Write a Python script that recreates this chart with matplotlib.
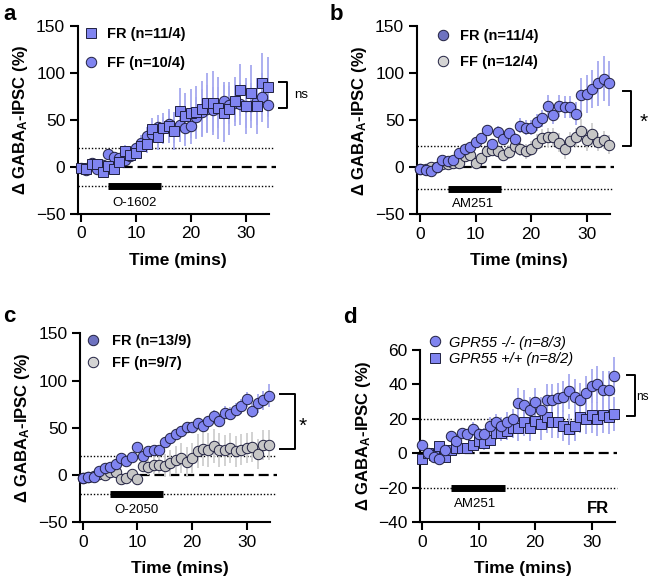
import matplotlib
matplotlib.use('Agg')
import matplotlib.pyplot as plt
from matplotlib.lines import Line2D
import numpy as np

plt.rcParams['font.family'] = ['Liberation Sans', 'DejaVu Sans']
plt.rcParams['mathtext.fontset'] = 'custom'
plt.rcParams['mathtext.rm'] = 'Liberation Sans'
plt.rcParams['mathtext.bf'] = 'Liberation Sans:bold'
plt.rcParams['mathtext.it'] = 'Liberation Sans:italic'

TIME = list(range(35))

# panel a: O-1602
A_FR = [-1, -2, 3, 3, -5, 1, -2, 5, 17, 13, 15, 22, 25, 40, 32, 41, 44, 38, 60, 54,
        57, 58, 62, 68, 68, 63, 57, 62, 70, 82, 65, 79, 65, 89, 85]
A_FR_ERR = [3, 3, 3, 4, 4, 5, 5, 5, 6, 6, 7, 8, 10, 12, 14, 16, 18, 20, 24, 25,
            26, 28, 30, 32, 34, 33, 30, 28, 26, 28, 30, 30, 30, 32, 32]
A_FF = [-1, -3, 4, -2, 2, 14, 11, 10, 7, 12, 20, 26, 33, 35, 43, 41, 46, 42, 45, 42,
        44, 53, 58, 62, 61, 63, 70, 66, 68, 67, 65, 65, 70, 74, 66]
A_FF_ERR = [2, 2, 3, 3, 3, 4, 4, 5, 5, 6, 6, 8, 10, 10, 12, 12, 14, 16, 18, 20,
            20, 22, 25, 25, 24, 22, 20, 20, 20, 22, 24, 24, 25, 26, 25]

# panel b: AM251
B_FR = [-2, -3, -4, 0, 8, 7, 8, 15, 19, 22, 27, 31, 40, 25, 38, 30, 36, 30, 44, 42,
        42, 48, 52, 65, 56, 65, 64, 64, 57, 77, 78, 83, 89, 94, 89]
B_FR_ERR = [2, 2, 2, 2, 3, 3, 3, 3, 4, 4, 4, 5, 5, 5, 6, 6, 6, 7, 8, 8,
            8, 9, 9, 12, 10, 12, 12, 12, 12, 18, 20, 20, 24, 24, 24]
B_FF = [-2, -2, 0, 0, 4, 4, 5, 5, 12, 13, 5, 10, 17, 18, 17, 13, 16, 23, 20, 17,
        20, 26, 31, 32, 32, 26, 19, 28, 32, 39, 29, 35, 27, 29, 24]
B_FF_ERR = [2, 2, 2, 2, 3, 3, 3, 3, 4, 4, 4, 5, 5, 6, 6, 6, 7, 8, 8, 8,
            8, 9, 10, 10, 10, 10, 10, 10, 10, 12, 12, 12, 10, 10, 10]

# panel c: O-2050
C_FR = [-3, -2, -2, 4, 7, 9, 12, 18, 15, 19, 30, 20, 25, 27, 27, 35, 39, 43, 47, 51,
        51, 55, 52, 57, 63, 57, 66, 65, 69, 73, 80, 68, 76, 79, 84]
C_FR_ERR = [2, 2, 2, 2, 2, 3, 3, 3, 3, 3, 3, 3, 4, 4, 4, 4, 4, 5, 5, 5,
            5, 5, 6, 6, 6, 6, 7, 7, 7, 8, 8, 8, 10, 10, 12]
C_FF = [-3, -2, -1, 1, 0, 3, 3, -4, -3, 1, -4, 10, 8, 11, 11, 10, 13, 16, 18, 14,
        18, 25, 28, 26, 31, 26, 26, 29, 25, 27, 29, 30, 22, 32, 32]
C_FF_ERR = [2, 2, 2, 2, 3, 3, 3, 4, 4, 4, 4, 6, 8, 10, 10, 12, 14, 15, 16, 16,
            16, 18, 18, 18, 18, 18, 16, 16, 16, 16, 16, 16, 16, 16, 16]

# panel d: AM251 in GPR55 mice (FR)
D_KO = [5, 0, -2, -3, 2, 10, 7, 12, 11, 14, 11, 11, 16, 18, 16, 18, 20, 29, 28, 25,
        30, 25, 31, 31, 32, 33, 36, 33, 31, 35, 39, 40, 37, 37, 45]
D_KO_ERR = [3, 2, 2, 2, 2, 3, 3, 3, 3, 4, 4, 4, 5, 5, 5, 6, 6, 9, 9, 8,
            8, 8, 9, 9, 9, 9, 10, 10, 10, 10, 10, 11, 11, 11, 11]
D_WT = [-3, 0, -1, 4, -2, 2, 3, 3, 3, 5, 7, 6, 8, 12, 12, 13, 15, 15, 18, 15,
        19, 17, 21, 18, 18, 16, 14, 16, 21, 20, 22, 20, 22, 21, 23]
D_WT_ERR = [2, 2, 2, 2, 2, 2, 2, 3, 3, 3, 3, 4, 4, 4, 5, 5, 6, 8, 8, 8,
            8, 9, 9, 9, 9, 9, 9, 9, 9, 9, 10, 10, 10, 10, 10]

BLUE = '#8084f0'
BLUE_DARK = '#6e72c0'
BLUE_ERR = '#a6a9ef'
GREY = '#c6c6c6'
GREY_ERR = '#cfcfcf'
EDGE = '#202040'

W, H = 649, 586
fig = plt.figure(figsize=(W / 100, H / 100), dpi=100)


def make_axes(left, top, right, bottom, xlim, ylim):
    ax = fig.add_axes([left / W, 1 - bottom / H, (right - left) / W, (bottom - top) / H])
    ax.set_xlim(*xlim)
    ax.set_ylim(*ylim)
    for s in ['top', 'right']:
        ax.spines[s].set_visible(False)
    for s in ['left', 'bottom']:
        ax.spines[s].set_linewidth(1.5)
    ax.spines['bottom'].set_bounds(xlim[0], 34.2)
    ax.tick_params(width=1.5, length=6, labelsize=12.5, pad=3)
    ax.set_xticks([0, 10, 20, 30])
    ax.set_xlabel('Time (mins)', fontsize=12.5, fontweight='bold', labelpad=8)
    ax.set_ylabel(r'Δ GABA$_\mathbf{A}$-IPSC (%)', fontsize=12, fontweight='bold', labelpad=4)
    return ax


def series(ax, y, err, marker, color, ecolor, z):
    ax.errorbar(TIME, y, yerr=err, fmt='none', ecolor=ecolor, elinewidth=1.3, capsize=0, zorder=1)
    ax.plot(TIME, y, marker, ms=7.5 if marker == 'o' else 7, mfc=color, mec=EDGE, mew=0.7,
            ls='none', zorder=z, clip_on=False)


def guides(ax, band, end_dash, end_dot, drug, drug_xy):
    x0 = ax.get_xlim()[0]
    ax.plot([x0, end_dash], [0, 0], color='k', lw=1.6, dashes=(4.5, 2.2), zorder=0.5, clip_on=False)
    ax.plot([x0, end_dot], [band, band], color='k', lw=1, dashes=(1, 1.4), zorder=0.5, clip_on=False)
    ax.plot([x0, end_dot], [-band, -band], color='k', lw=1, dashes=(1, 1.4), zorder=0.5, clip_on=False)
    ax.plot([5, 14.6], [-band, -band], color='k', lw=5, solid_capstyle='butt', zorder=2)
    ax.text(drug_xy[0], drug_xy[1], drug, fontsize=9.5, ha='center', va='center')


def bracket(ax, x0, x1, y0, y1, label, lx, ly, size, ha='left'):
    ax.plot([x0, x1, x1, x0], [y0, y0, y1, y1], color='k', lw=1.4, clip_on=False)
    ax.text(lx, ly, label, fontsize=size, ha=ha, va='center', clip_on=False)


# ---- a ----
ax = make_axes(77.7, 26, 278.6, 214, (-0.6, 36), (-50, 150))
ax.set_yticks([-50, 0, 50, 100, 150])
guides(ax, 20, 35.5, 35, 'O-1602', (9.8, -38.5))
series(ax, A_FF, A_FF_ERR, 'o', BLUE, BLUE_ERR, 3)
series(ax, A_FR, A_FR_ERR, 's', BLUE, BLUE_ERR, 3)
h = [Line2D([], [], marker='s', ls='none', ms=7, mfc=BLUE, mec=EDGE, mew=0.7),
     Line2D([], [], marker='o', ls='none', ms=7.5, mfc=BLUE, mec=EDGE, mew=0.7)]
ax.legend(h, ['FR (n=11/4)', 'FF (n=10/4)'], loc='upper left', bbox_to_anchor=(-0.03, 1.065),
          frameon=False, handlelength=0.8, handletextpad=0.7, labelspacing=1.05,
          prop={'weight': 'bold', 'size': 10.5})
bracket(ax, 36.1, 37.6, 90, 63, 'ns', 38.9, 77, 9.5)
fig.text(3 / W, 1 - 14 / H, 'a', fontsize=16, fontweight='bold', va='center')

# ---- b ----
ax = make_axes(416.7, 26, 620.2, 214.5, (-0.6, 36), (-50, 150))
ax.set_yticks([-50, 0, 50, 100, 150])
guides(ax, 23, 34.8, 34.5, 'AM251', (9.6, -38.5))
series(ax, B_FF, B_FF_ERR, 'o', GREY, GREY_ERR, 3)
series(ax, B_FR, B_FR_ERR, 'o', BLUE, BLUE_ERR, 4)
h = [Line2D([], [], marker='o', ls='none', ms=7.5, mfc=BLUE_DARK, mec=EDGE, mew=0.7),
     Line2D([], [], marker='o', ls='none', ms=7.5, mfc='#d4d4d4', mec=EDGE, mew=0.7)]
ax.legend(h, ['FR (n=11/4)', 'FF (n=12/4)'], loc='upper left', bbox_to_anchor=(0.035, 1.055),
          frameon=False, handlelength=0.8, handletextpad=0.75, labelspacing=0.85,
          prop={'weight': 'bold', 'size': 10.5})
bracket(ax, 36.5, 38.0, 81.5, 23, '*', 40.2, 48, 15, ha='center')
fig.text(330 / W, 1 - 14 / H, 'b', fontsize=16, fontweight='bold', va='center')

# ---- c ----
ax = make_axes(80, 333.3, 279.5, 522.3, (-0.5, 36), (-50, 150))
ax.set_yticks([-50, 0, 50, 100, 150])
guides(ax, 20, 35.5, 35.3, 'O-2050', (9.9, -37))
series(ax, C_FF, C_FF_ERR, 'o', GREY, GREY_ERR, 3)
series(ax, C_FR, C_FR_ERR, 'o', BLUE, BLUE_ERR, 4)
h = [Line2D([], [], marker='o', ls='none', ms=7.5, mfc=BLUE_DARK, mec=EDGE, mew=0.7),
     Line2D([], [], marker='o', ls='none', ms=7.5, mfc='#d4d4d4', mec=EDGE, mew=0.7)]
ax.legend(h, ['FR (n=13/9)', 'FF (n=9/7)'], loc='upper left', bbox_to_anchor=(-0.03, 1.065),
          frameon=False, handlelength=0.8, handletextpad=0.9, labelspacing=0.55,
          prop={'weight': 'bold', 'size': 10.5})
bracket(ax, 36.0, 38.9, 86, 28, '*', 40.2, 52, 15, ha='center')
fig.text(3 / W, 1 - 316 / H, 'c', fontsize=16, fontweight='bold', va='center')

# ---- d ----
ax = make_axes(420, 350, 625.6, 522.3, (-0.4, 36), (-40, 60))
ax.set_yticks([-40, -20, 0, 20, 40, 60])
guides(ax, 20, 34.4, 34.4, 'AM251', (9.3, -29.5))
series(ax, D_WT, D_WT_ERR, 's', BLUE, BLUE_ERR, 3)
series(ax, D_KO, D_KO_ERR, 'o', BLUE, BLUE_ERR, 4)
h = [Line2D([], [], marker='o', ls='none', ms=7.5, mfc=BLUE, mec=EDGE, mew=0.7),
     Line2D([], [], marker='s', ls='none', ms=7, mfc=BLUE, mec=EDGE, mew=0.7)]
ax.legend(h, ['GPR55 -/- (n=8/3)', 'GPR55 +/+ (n=8/2)'], loc='upper left',
          bbox_to_anchor=(-0.02, 1.16), frameon=False, handlelength=0.8, handletextpad=0.6,
          labelspacing=0.2, prop={'style': 'italic', 'size': 10.5})
bracket(ax, 36.3, 37.6, 45.3, 21.7, 'ns', 37.9, 32.7, 8.5)
ax.text(31.1, -31.8, 'FR', fontsize=12, fontweight='bold', ha='center', va='center')
fig.text(343 / W, 1 - 317 / H, 'd', fontsize=16, fontweight='bold', va='center')

fig.savefig('out.png', dpi=100)
